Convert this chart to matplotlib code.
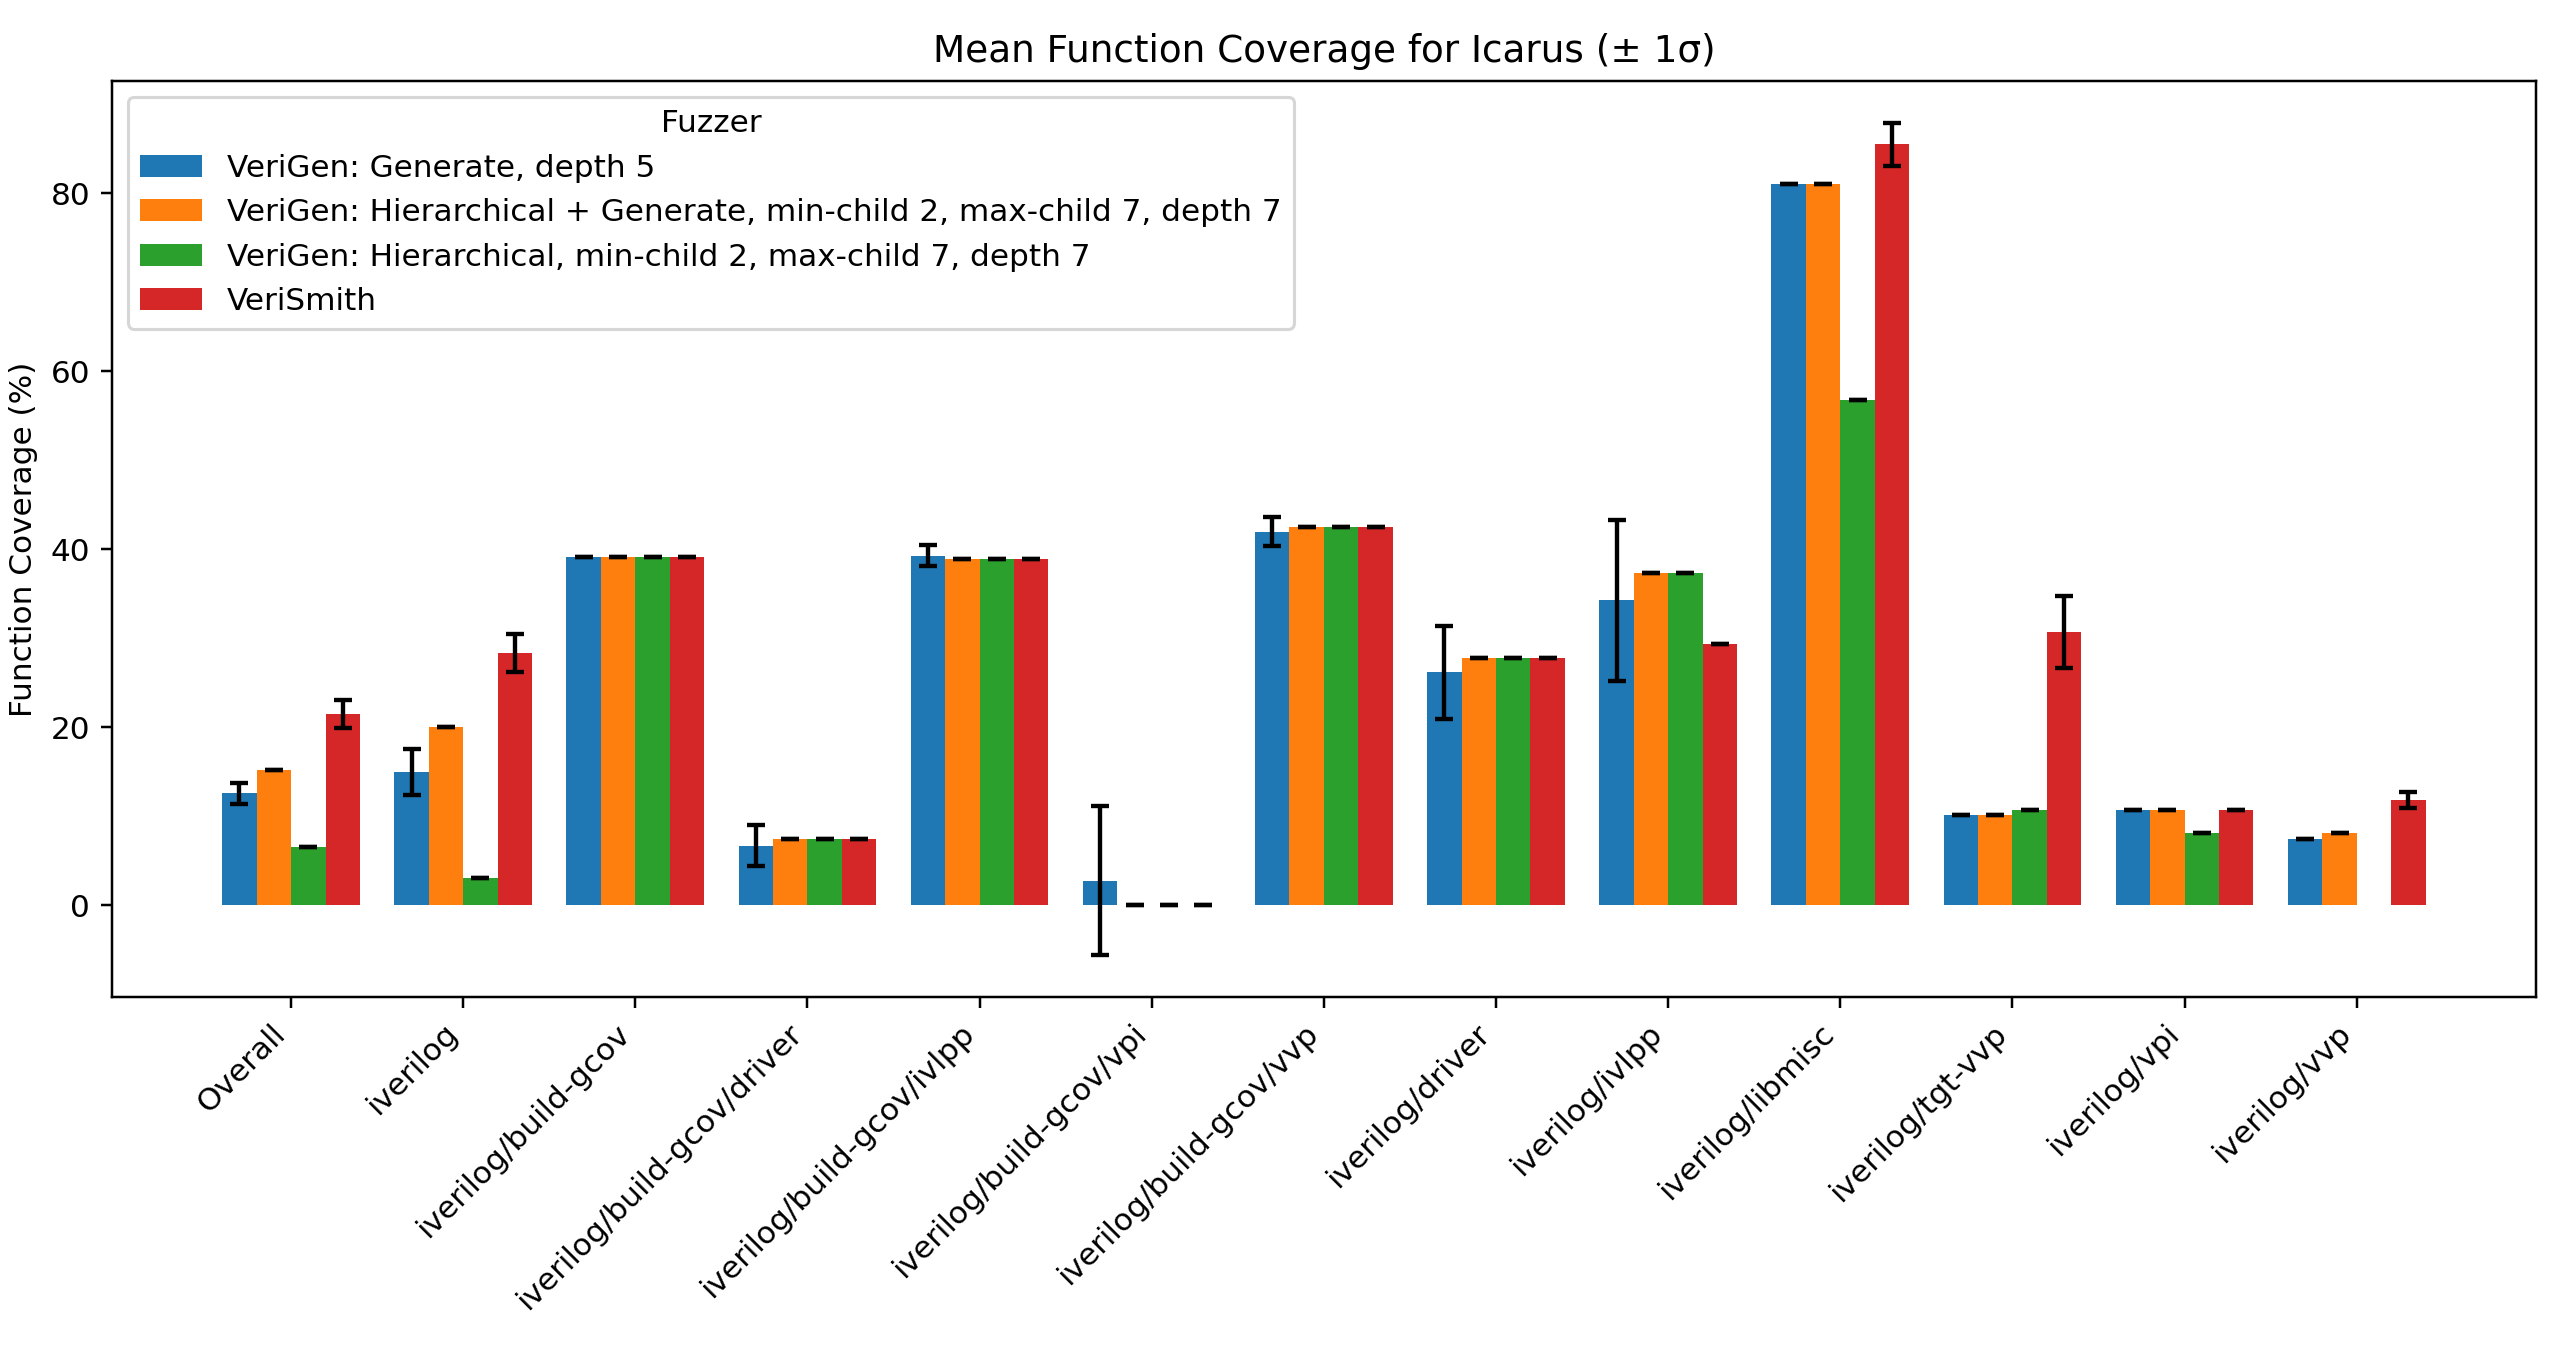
import matplotlib
matplotlib.use('Agg')
import matplotlib.pyplot as plt
import numpy as np

nan = np.nan

categories = ['Overall', 'iverilog', 'iverilog/build-gcov', 'iverilog/build-gcov/driver',
              'iverilog/build-gcov/ivlpp', 'iverilog/build-gcov/vpi', 'iverilog/build-gcov/vvp',
              'iverilog/driver', 'iverilog/ivlpp', 'iverilog/libmisc', 'iverilog/tgt-vvp',
              'iverilog/vpi', 'iverilog/vvp']

fuzzers = ['VeriGen: Generate, depth 5',
           'VeriGen: Hierarchical + Generate, min-child 2, max-child 7, depth 7',
           'VeriGen: Hierarchical, min-child 2, max-child 7, depth 7',
           'VeriSmith']

generate_mean = [12.6, 15.0, 39.1, 6.7, 39.3, 2.8, 42.0, 26.2, 34.3, 81.1, 10.2, 10.7, 7.5]
generate_std = [1.2, 2.6, 0.0, 2.3, 1.15, 8.4, 1.6, 5.2, 9.05, 0.0, 0.0, 0.0, 0.0]

hier_gen_mean = [15.2, 20.0, 39.2, 7.5, 38.9, 0.0, 42.55, 27.8, 37.4, 81.1, 10.2, 10.7, 8.2]
hier_gen_std = [0.0, 0.0, 0.0, 0.0, 0.0, 0.0, 0.0, 0.0, 0.0, 0.0, 0.0, 0.0, 0.0]

hier_mean = [6.6, 3.1, 39.2, 7.5, 38.9, 0.0, 42.55, 27.8, 37.4, 56.8, 10.7, 8.2, nan]
hier_std = [0.0, 0.0, 0.0, 0.0, 0.0, 0.0, 0.0, 0.0, 0.0, 0.0, 0.0, 0.0, nan]

verismith_mean = [21.55, 28.4, 39.2, 7.5, 38.9, 0.0, 42.55, 27.8, 29.4, 85.5, 30.75, 10.7, 11.85]
verismith_std = [1.57, 2.15, 0.0, 0.0, 0.0, 0.0, 0.0, 0.0, 0.0, 2.45, 4.05, 0.0, 0.95]

means = [generate_mean, hier_gen_mean, hier_mean, verismith_mean]
stds = [generate_std, hier_gen_std, hier_std, verismith_std]
colors = ['#1f77b4', '#ff7f0e', '#2ca02c', '#d62728']

dpi = 224
fig, ax = plt.subplots(figsize=(2564 / dpi, 1350 / dpi), dpi=dpi)
fig.subplots_adjust(left=0.0437, right=0.989, top=0.94, bottom=0.2615)

x = np.arange(len(categories))
width = 0.2
for i, (label, m, s) in enumerate(zip(fuzzers, means, stds)):
    ax.bar(x + (i - 1.5) * width, m, width, yerr=s, label=label, color=colors[i],
           capsize=3, error_kw=dict(capthick=1.4, elinewidth=1.4))

ax.set_xticks(x)
ax.set_xticklabels(categories, rotation=45, ha='right')
ax.set_ylabel('Function Coverage (%)')
ax.set_title('Mean Function Coverage for Icarus (± 1σ)')
ax.legend(title='Fuzzer', loc='upper left')

plt.savefig('out.png', dpi=dpi)
